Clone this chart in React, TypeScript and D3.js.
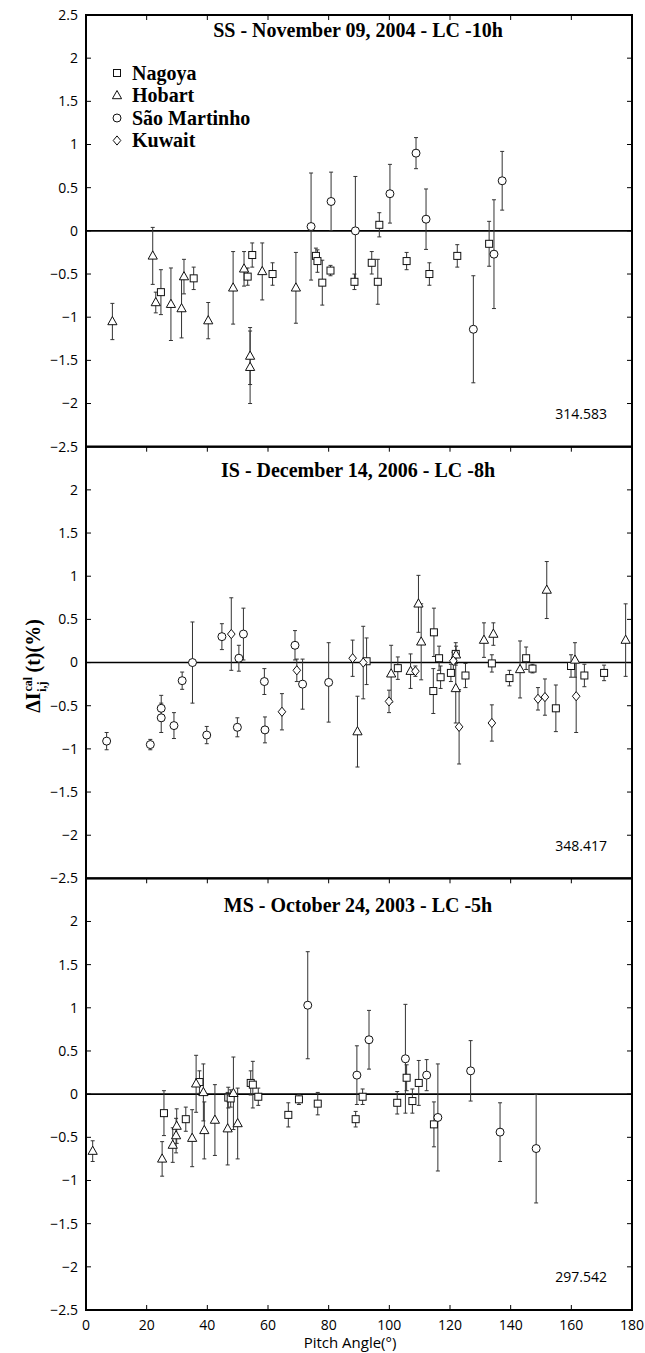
import * as d3 from 'd3';
import { useEffect, useRef } from 'react';

// [pitch angle, value, error]
const ssNagoya = [
  [24.7, -0.71, 0.26], [35.5, -0.55, 0.13], [53.3, -0.53, 0.1], [54.8, -0.28, 0.14],
  [61.5, -0.5, 0.13], [75.8, -0.29, 0.09], [76.3, -0.35, 0.13], [77.9, -0.6, 0.26],
  [80.6, -0.46, 0.06], [88.5, -0.59, 0.09], [94.2, -0.37, 0.13], [96.2, -0.59, 0.26],
  [96.7, 0.07, 0.14], [105.7, -0.35, 0.1], [113.2, -0.5, 0.13], [122.4, -0.29, 0.13],
  [132.9, -0.15, 0.26],
];
const ssHobart = [
  [8.7, -1.05, 0.21], [22.0, -0.29, 0.33], [23.0, -0.83, 0.12], [28.0, -0.85, 0.42],
  [31.5, -0.9, 0.34], [32.3, -0.53, 0.2], [40.3, -1.04, 0.21], [48.5, -0.66, 0.42],
  [52.1, -0.44, 0.2], [54.1, -1.45, 0.33], [54.1, -1.58, 0.42], [58.1, -0.47, 0.33],
  [69.2, -0.66, 0.41],
];
const ssSaoMartinho = [
  [74.2, 0.05, 0.62], [80.8, 0.34, 0.34], [88.8, 0.0, 0.63], [100.2, 0.43, 0.34],
  [108.8, 0.9, 0.18], [112.1, 0.135, 0.35], [127.7, -1.14, 0.62], [134.5, -0.27, 0.63],
  [137.2, 0.58, 0.34],
];
const ssKuwait: number[][] = [];

const isNagoya = [
  [92.5, 0.015, 0.27], [102.8, -0.065, 0.13], [114.7, 0.35, 0.28], [114.5, -0.33, 0.26],
  [116.4, 0.05, 0.14], [116.9, -0.17, 0.13], [120.3, -0.12, 0.1], [121.9, 0.1, 0.13],
  [125.1, -0.15, 0.14], [133.8, -0.01, 0.1], [139.6, -0.18, 0.09], [145.1, 0.05, 0.13],
  [147.2, -0.07, 0.05], [154.9, -0.53, 0.27], [159.9, -0.04, 0.13], [164.3, -0.15, 0.13],
  [170.8, -0.12, 0.09],
];
const isHobart = [
  [89.5, -0.8, 0.41], [100.6, -0.13, 0.33], [107.0, -0.1, 0.2], [109.6, 0.68, 0.33],
  [110.5, 0.24, 0.44], [121.9, -0.3, 0.4], [122.0, 0.09, 0.1], [131.2, 0.26, 0.2],
  [134.3, 0.33, 0.13], [143.1, -0.08, 0.33], [151.9, 0.84, 0.33], [161.2, 0.03, 0.2],
  [177.9, 0.26, 0.42],
];
const isSaoMartinho = [
  [6.8, -0.91, 0.1], [21.2, -0.95, 0.06], [24.8, -0.53, 0.15], [24.8, -0.64, 0.17],
  [29.0, -0.73, 0.15], [31.7, -0.21, 0.1], [35.1, 0.0, 0.47], [39.8, -0.84, 0.1],
  [44.8, 0.3, 0.15], [49.9, -0.75, 0.11], [50.4, 0.05, 0.15], [51.9, 0.33, 0.3],
  [58.8, -0.22, 0.15], [59.0, -0.78, 0.15], [68.9, 0.2, 0.17], [71.4, -0.25, 0.29],
  [80.0, -0.23, 0.46],
];
const isKuwait = [
  [47.9, 0.33, 0.42], [64.6, -0.57, 0.21], [69.5, -0.09, 0.13], [87.9, 0.05, 0.21],
  [91.4, 0.0, 0.42], [99.9, -0.45, 0.13], [108.6, -0.1, 0.06], [121.1, 0.02, 0.1],
  [123.0, -0.745, 0.43], [133.8, -0.7, 0.21], [149.0, -0.42, 0.13], [151.3, -0.4, 0.21],
  [161.6, -0.39, 0.42],
];

const msNagoya = [
  [25.7, -0.22, 0.26], [32.9, -0.29, 0.14], [37.4, 0.14, 0.13], [46.9, -0.04, 0.12],
  [47.7, -0.05, 0.1], [54.3, 0.13, 0.14], [55.0, 0.11, 0.27], [56.8, -0.03, 0.1],
  [66.7, -0.24, 0.14], [70.2, -0.06, 0.06], [76.4, -0.11, 0.13], [88.9, -0.29, 0.09],
  [91.2, -0.03, 0.09], [102.6, -0.1, 0.13], [105.7, 0.19, 0.15], [107.6, -0.08, 0.14],
  [109.7, 0.13, 0.26], [114.7, -0.35, 0.26],
];
const msHobart = [
  [2.2, -0.66, 0.12], [25.1, -0.75, 0.2], [28.6, -0.59, 0.2], [29.7, -0.48, 0.2],
  [29.9, -0.37, 0.2], [35.0, -0.51, 0.33], [36.3, 0.12, 0.33], [38.7, 0.02, 0.33],
  [39.0, -0.42, 0.33], [42.5, -0.3, 0.41], [46.7, -0.4, 0.42], [48.6, 0.01, 0.42],
  [50.0, -0.34, 0.41],
];
const msSaoMartinho = [
  [73.1, 1.03, 0.62], [89.3, 0.22, 0.34], [93.3, 0.63, 0.34], [105.3, 0.41, 0.63],
  [112.3, 0.22, 0.18], [116.0, -0.27, 0.62], [126.8, 0.27, 0.35], [136.5, -0.44, 0.34],
  [148.4, -0.63, 0.63],
];
const msKuwait: number[][] = [];

const stations = ['Nagoya', 'Hobart', 'São Martinho', 'Kuwait'];
const shapes = ['square', 'triangle', 'circle', 'diamond'];
const titles = [
  'SS - November 09, 2004 - LC -10h',
  'IS - December 14, 2006 - LC -8h',
  'MS - October 24, 2003 - LC -5h',
];
const notes = ['314.583', '348.417', '297.542'];
const panelData = [
  [ssNagoya, ssHobart, ssSaoMartinho, ssKuwait],
  [isNagoya, isHobart, isSaoMartinho, isKuwait],
  [msNagoya, msHobart, msSaoMartinho, msKuwait],
];
const xTicks = [0, 20, 40, 60, 80, 100, 120, 140, 160, 180];
const yTicks = [2.5, 2, 1.5, 1, 0.5, 0, -0.5, -1, -1.5, -2, -2.5];

const SANS = '"Open Sans", sans-serif';
const SERIF = '"Liberation Serif", "Times New Roman", serif';

function drawMarker(g: any, shape: string, x: number, y: number) {
  const common = (s: any) => s.attr('fill', 'white').attr('stroke', '#111').attr('stroke-width', 1);
  if (shape === 'square') {
    common(g.append('rect').attr('x', x - 3.5).attr('y', y - 3.5).attr('width', 7).attr('height', 7));
  } else if (shape === 'circle') {
    common(g.append('circle').attr('cx', x).attr('cy', y).attr('r', 4));
  } else if (shape === 'triangle') {
    common(g.append('path').attr('d', `M${x},${y - 5}L${x + 4.6},${y + 3.2}L${x - 4.6},${y + 3.2}Z`));
  } else {
    common(g.append('path').attr('d', `M${x},${y - 4.6}L${x + 3.8},${y}L${x},${y + 4.6}L${x - 3.8},${y}Z`));
  }
}

export default function App() {
  const svgRef = useRef<SVGSVGElement>(null);
  const w = 645;
  const h = 1353;

  useEffect(() => {
    if (svgRef.current == null) return;
    const svg = d3.select(svgRef.current).select('#change');
    svg.selectAll('*').remove();

    const left = 86;
    const right = 632;
    const panelH = 431.7;
    const panelTops = [15, 446.7, 878.3];
    const titleOffsets = [22, 30, 34];

    const xScale = d3.scaleLinear().domain([0, 180]).range([left, right]);

    panelTops.forEach((top, p) => {
      const g = svg.append('g');
      const yScale = d3.scaleLinear().domain([-2.5, 2.5]).range([top + panelH, top]);

      // zero line
      g.append('line')
        .attr('x1', left).attr('x2', right)
        .attr('y1', yScale(0)).attr('y2', yScale(0))
        .attr('stroke', '#000').attr('stroke-width', 1.6);

      // error bars
      panelData[p].forEach((series) => {
        series.forEach(([a, v, e]) => {
          const x = xScale(a);
          const y1 = yScale(v + e);
          const y2 = yScale(v - e);
          g.append('line').attr('x1', x).attr('x2', x).attr('y1', y1).attr('y2', y2)
            .attr('stroke', '#333').attr('stroke-width', 1);
          [y1, y2].forEach((yy) => {
            g.append('line').attr('x1', x - 2).attr('x2', x + 2).attr('y1', yy).attr('y2', yy)
              .attr('stroke', '#333').attr('stroke-width', 1);
          });
        });
      });
      // markers
      panelData[p].forEach((series, s) => {
        series.forEach(([a, v]) => drawMarker(g, shapes[s], xScale(a), yScale(v)));
      });

      // frame
      g.append('rect')
        .attr('x', left).attr('y', top).attr('width', right - left).attr('height', panelH)
        .attr('fill', 'none').attr('stroke', '#000').attr('stroke-width', 2);

      // ticks
      yTicks.slice(1, -1).forEach((t) => {
        const y = yScale(t);
        g.append('line').attr('x1', left).attr('x2', left + 5).attr('y1', y).attr('y2', y)
          .attr('stroke', '#000').attr('stroke-width', 1);
        g.append('line').attr('x1', right - 5).attr('x2', right).attr('y1', y).attr('y2', y)
          .attr('stroke', '#000').attr('stroke-width', 1);
      });
      xTicks.slice(1, -1).forEach((t) => {
        const x = xScale(t);
        g.append('line').attr('x1', x).attr('x2', x).attr('y1', top).attr('y2', top + 5)
          .attr('stroke', '#000').attr('stroke-width', 1);
        if (p === 2) {
          g.append('line').attr('x1', x).attr('x2', x)
            .attr('y1', top + panelH - 5).attr('y2', top + panelH)
            .attr('stroke', '#000').attr('stroke-width', 1);
        }
      });

      // y tick labels
      yTicks.forEach((t) => {
        if (p > 0 && t === 2.5) return;
        g.append('text')
          .attr('x', left - 8).attr('y', yScale(t)).attr('dy', '0.35em')
          .attr('text-anchor', 'end')
          .style('font', `14px ${SANS}`)
          .text(t < 0 ? `\u2212${Math.abs(t)}` : `${t}`);
      });

      // title
      g.append('text')
        .attr('x', 358).attr('y', top + titleOffsets[p])
        .attr('text-anchor', 'middle')
        .style('font', `bold 20px ${SERIF}`)
        .text(titles[p]);

      // value note
      g.append('text')
        .attr('x', 607).attr('y', top + 404)
        .attr('text-anchor', 'end')
        .style('font', `14px ${SANS}`)
        .text(notes[p]);

      // legend
      if (p === 0) {
        stations.forEach((name, i) => {
          const ly = 73 + i * 22.5;
          drawMarker(g, shapes[i], 117, ly);
          g.append('text')
            .attr('x', 132).attr('y', ly + 6.5)
            .style('font', `bold 20px ${SERIF}`)
            .text(name);
        });
      }
    });

    // x tick labels
    xTicks.forEach((t) => {
      svg.append('text')
        .attr('x', xScale(t)).attr('y', 1330)
        .attr('text-anchor', 'middle')
        .style('font', `14px ${SANS}`)
        .text(`${t}`);
    });

    svg.append('text')
      .attr('x', 350).attr('y', 1348)
      .attr('text-anchor', 'middle')
      .style('font', `15px ${SANS}`)
      .text('Pitch Angle(°)');

    // y label
    const yl = svg.append('text')
      .attr('transform', 'translate(40,666) rotate(-90)')
      .attr('text-anchor', 'middle')
      .style('font', `bold 20px ${SERIF}`);
    yl.append('tspan').text('ΔI');
    yl.append('tspan').attr('dx', 1).attr('dy', -8).style('font-size', '12px').text('cal');
    yl.append('tspan').attr('dx', -15).attr('dy', 14).style('font-size', '12px').text('i,j');
    yl.append('tspan').attr('dx', 9).attr('dy', -6).text('(t)(%)');
  }, []);

  return (
    <svg
      ref={svgRef}
      width={w}
      height={h}
      style={{ position: 'absolute', left: 0, top: 0, background: 'white' }}
    >
      <g id='change'></g>
    </svg>
  );
}
